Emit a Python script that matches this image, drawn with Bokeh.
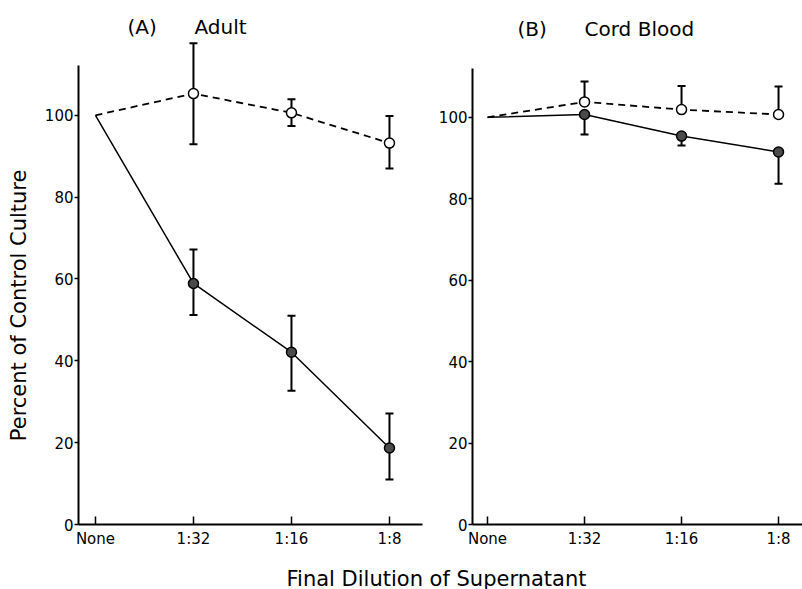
import math
from bokeh.plotting import figure
from bokeh.layouts import column, row
from bokeh.models import ColumnDataSource, Whisker, TeeHead, FixedTicker, Label
from bokeh.embed import file_html
from bokeh.resources import INLINE

# ---- data ----
x_labels = ["None", "1:32", "1:16", "1:8"]
x_pos = [0, 1, 2, 3]

adult_open = [100, 105.3, 100.6, 93.2]
adult_open_lo = [None, 92.9, 97.4, 87.0]
adult_open_hi = [None, 117.6, 103.9, 99.8]

adult_filled = [100, 58.9, 42.1, 18.7]
adult_filled_lo = [None, 51.2, 32.7, 11.0]
adult_filled_hi = [None, 67.2, 51.0, 27.1]

cord_open = [100, 103.8, 101.9, 100.7]
cord_open_hi = [None, 108.8, 107.7, 107.6]

cord_filled = [100, 100.7, 95.4, 91.5]
cord_filled_lo = [None, 95.8, 93.1, 83.7]

y_ticks = [0, 20, 40, 60, 80, 100]

FONT = "DejaVu Sans"


def blank(p):
    p.axis.visible = False
    p.grid.visible = False
    p.outline_line_color = None
    p.background_fill_color = "white"
    p.border_fill_color = "white"


def style(p, ytop):
    p.grid.visible = False
    p.outline_line_color = None
    p.background_fill_color = "white"
    p.border_fill_color = "white"
    p.xaxis.ticker = FixedTicker(ticks=x_pos)
    p.xaxis.major_label_overrides = {x: l for x, l in zip(x_pos, x_labels)}
    p.yaxis.ticker = FixedTicker(ticks=y_ticks)
    p.yaxis.bounds = (0, ytop)
    for ax in (p.xaxis[0], p.yaxis[0]):
        ax.axis_line_width = 2
        ax.axis_line_color = "black"
        ax.major_tick_line_color = "black"
        ax.major_tick_line_width = 1.5
        ax.minor_tick_line_color = None
        ax.major_label_text_font = FONT
        ax.major_label_text_font_size = "15px"
        ax.major_label_text_color = "black"
    p.xaxis.major_tick_in = 8
    p.xaxis.major_tick_out = 0
    p.xaxis.major_label_standoff = 5
    p.yaxis.major_tick_in = 0
    p.yaxis.major_tick_out = 4
    p.yaxis.major_label_standoff = 1


def draw(p, x, open_y, open_lo, open_hi, fill_y, fill_lo, fill_hi):
    p.line(x, open_y, line_color="black", line_width=1.8, line_dash="7 5")
    p.line(x, fill_y, line_color="black", line_width=1.5)
    for ys, lo, hi in ((open_y, open_lo, open_hi), (fill_y, fill_lo, fill_hi)):
        lo2 = [l if l is not None else y for l, y in zip(lo, ys)][1:]
        hi2 = [h if h is not None else y for h, y in zip(hi, ys)][1:]
        src = ColumnDataSource(dict(x=x[1:], lower=lo2, upper=hi2))
        has_lo = any(l is not None for l in lo[1:])
        has_hi = any(h is not None for h in hi[1:])
        w = Whisker(source=src, base="x", lower="lower", upper="upper",
                    line_width=2, line_color="black", level="underlay",
                    upper_head=TeeHead(size=8, line_width=2) if has_hi else None,
                    lower_head=TeeHead(size=8, line_width=2) if has_lo else None)
        p.add_layout(w)
    p.scatter(x[1:], fill_y[1:], size=10, marker="circle", fill_color="#4a4a4a",
              line_color="black", line_width=1.5)
    p.scatter(x[1:], open_y[1:], size=10, marker="circle", fill_color="white",
              line_color="black", line_width=1.5)


def title(p, x, y, text):
    p.add_layout(Label(x=x, y=y, text=text, text_font=FONT, text_font_size="20px",
                       text_color="black", text_baseline="alphabetic"))


H = 550
none_ = [None] * 4

# narrow panel carrying the y-axis title
pY = figure(width=32, height=H, x_range=(0, 32), y_range=(0, H),
            output_backend="svg", toolbar_location=None, min_border=0)
blank(pY)
pY.add_layout(Label(x=18, y=H - 320, text="Percent of Control Culture", text_font=FONT,
                    text_font_size="21px", text_color="black", angle=math.pi / 2,
                    text_align="center", text_baseline="middle"))

pA = figure(width=398, height=H, x_range=(-0.173, 3.337), y_range=(0, 128.05),
            output_backend="svg", toolbar_location=None,
            min_border_left=46, min_border_right=8, min_border_top=0,
            min_border_bottom=25)
style(pA, 112.2)
draw(pA, x_pos, adult_open, adult_open_lo, adult_open_hi,
     adult_filled, adult_filled_lo, adult_filled_hi)
title(pA, 0.327, 121.6, "(A)")
title(pA, 1.01, 121.6, "Adult")

pB = figure(width=372, height=H, x_range=(-0.155, 3.247), y_range=(0, 128.7),
            output_backend="svg", toolbar_location=None,
            min_border_left=42, min_border_right=0, min_border_top=0,
            min_border_bottom=25)
style(pB, 112.0)
draw(pB, x_pos, cord_open, none_, cord_open_hi,
     cord_filled, cord_filled_lo, none_)
title(pB, 0.309, 121.8, "(B)")
title(pB, 1.0, 121.8, "Cord Blood")

pX = figure(width=802, height=39, x_range=(0, 802), y_range=(0, 39),
            output_backend="svg", toolbar_location=None, min_border=0)
blank(pX)
pX.add_layout(Label(x=436, y=11, text="Final Dilution of Supernatant", text_font=FONT,
                    text_font_size="21px", text_color="black", text_align="center",
                    text_baseline="alphabetic"))

layout = column(row(pY, pA, pB), pX)
open("out.html", "w").write(file_html(layout, INLINE))
